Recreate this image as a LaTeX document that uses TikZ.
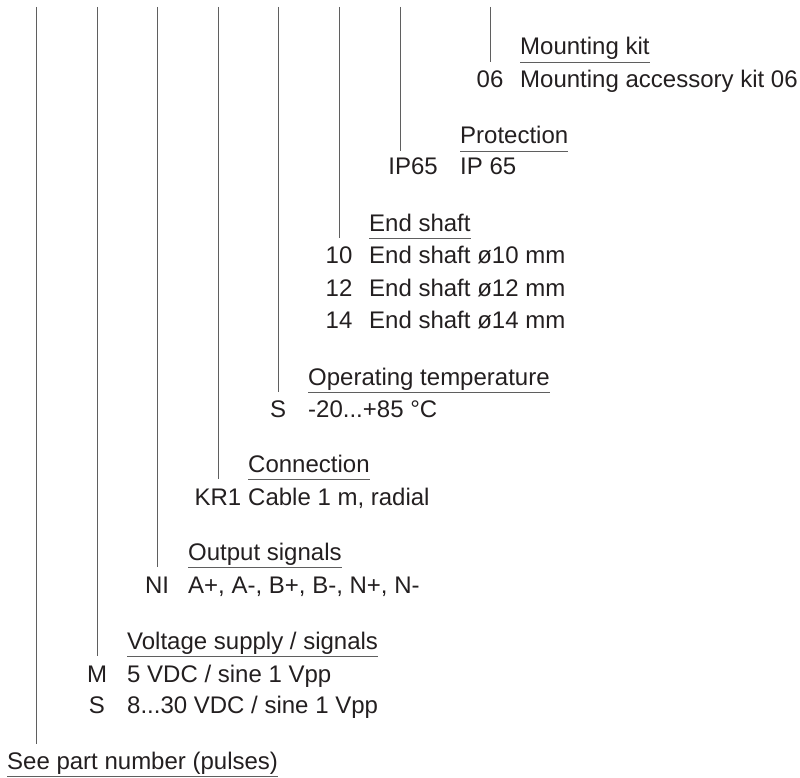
\documentclass[tikz,border=0pt]{standalone}
\usepackage{fontspec}
\setmainfont{Liberation Sans}
\usetikzlibrary{positioning}
\definecolor{txtcol}{RGB}{35,31,32}
\definecolor{linecol}{RGB}{95,95,95}

\begin{document}
\begin{tikzpicture}[x=1pt, y=-1pt,
    head/.style={anchor=base west, inner sep=0pt, text depth=7pt, font=\fontsize{24}{28}\selectfont, text=txtcol},
    code/.style={anchor=base, inner sep=0pt, font=\fontsize{24}{28}\selectfont, text=txtcol},
    desc/.style={anchor=base west, inner sep=0pt, font=\fontsize{24}{28}\selectfont, text=txtcol},
    lead/.style={draw=linecol, line width=0.9pt},
    uline/.style={draw=linecol, line width=0.9pt},
]
\useasboundingbox (0,0) rectangle (800,778);

% tops of the leads
\coordinate (tPulse) at (36,7);
\coordinate (tVolt) at (97,7);
\coordinate (tOut) at (157,7);
\coordinate (tConn) at (218,7);
\coordinate (tTemp) at (278,7);
\coordinate (tShaft) at (339,7);
\coordinate (tProt) at (400,7);
\coordinate (tKit) at (490,7);

% Mounting kit
\node[head] (hdrKit) at (520,55) {Mounting kit};
\node[code] (cKit) at (490,88) {06};
\node[desc] (dKit) at (520,88) {Mounting accessory kit 06};

% Protection
\node[head] (hdrProt) at (460,144) {Protection};
\node[code, anchor=base east] (cProt) at (438,175) {IP65};
\node[desc] (dProt) at (460,175) {IP 65};

% End shaft
\node[head] (hdrShaft) at (369,231) {End shaft};
\node[code] (cShaftA) at (339,263) {10};
\node[desc] (dShaftA) at (369,263) {End shaft ø10 mm};
\node[code] (cShaftB) at (339,296) {12};
\node[desc] (dShaftB) at (369,296) {End shaft ø12 mm};
\node[code] (cShaftC) at (339,328) {14};
\node[desc] (dShaftC) at (369,328) {End shaft ø14 mm};

% Operating temperature
\node[head] (hdrTemp) at (308,385) {Operating temperature};
\node[code] (cTemp) at (278,417) {S};
\node[desc] (dTemp) at (308,417) {-20...+85 °C};

% Connection
\node[head] (hdrConn) at (248,472) {Connection};
\node[code] (cConn) at (218,505) {KR1};
\node[desc] (dConn) at (248,505) {Cable 1 m, radial};

% Output signals
\node[head] (hdrOut) at (188,560) {Output signals};
\node[code] (cOut) at (157,593) {NI};
\node[desc] (dOut) at (188,593) {A+, A-, B+, B-, N+, N-};

% Voltage supply
\node[head] (hdrVolt) at (127,649) {Voltage supply / signals};
\node[code] (cVoltA) at (97,682) {M};
\node[desc] (dVoltA) at (127,682) {5 VDC / sine 1 Vpp};
\node[code] (cVoltB) at (97,713) {S};
\node[desc] (dVoltB) at (127,713) {8...30 VDC / sine 1 Vpp};

% Pulses
\node[head] (hdrPulse) at (7,769) {See part number (pulses)};

% underlines
\draw[uline] (hdrKit.south west) -- (hdrKit.south east);
\draw[uline] (hdrProt.south west) -- (hdrProt.south east);
\draw[uline] (hdrShaft.south west) -- (hdrShaft.south east);
\draw[uline] (hdrTemp.south west) -- (hdrTemp.south east);
\draw[uline] (hdrConn.south west) -- (hdrConn.south east);
\draw[uline] (hdrOut.south west) -- (hdrOut.south east);
\draw[uline] (hdrVolt.south west) -- (hdrVolt.south east);
\draw[uline] (hdrPulse.south west) -- (hdrPulse.south east);

% leads
\draw[lead] (tKit) -- (tKit |- hdrKit.south);
\draw[lead] (tProt) -- (tProt |- hdrProt.south);
\draw[lead] (tShaft) -- (tShaft |- hdrShaft.south);
\draw[lead] (tTemp) -- (tTemp |- hdrTemp.south);
\draw[lead] (tConn) -- (tConn |- hdrConn.south);
\draw[lead] (tOut) -- (tOut |- hdrOut.south);
\draw[lead] (tVolt) -- (tVolt |- hdrVolt.south);
\draw[lead] (tPulse) -- ([yshift=7pt]tPulse |- hdrPulse.north);
\end{tikzpicture}
\end{document}
